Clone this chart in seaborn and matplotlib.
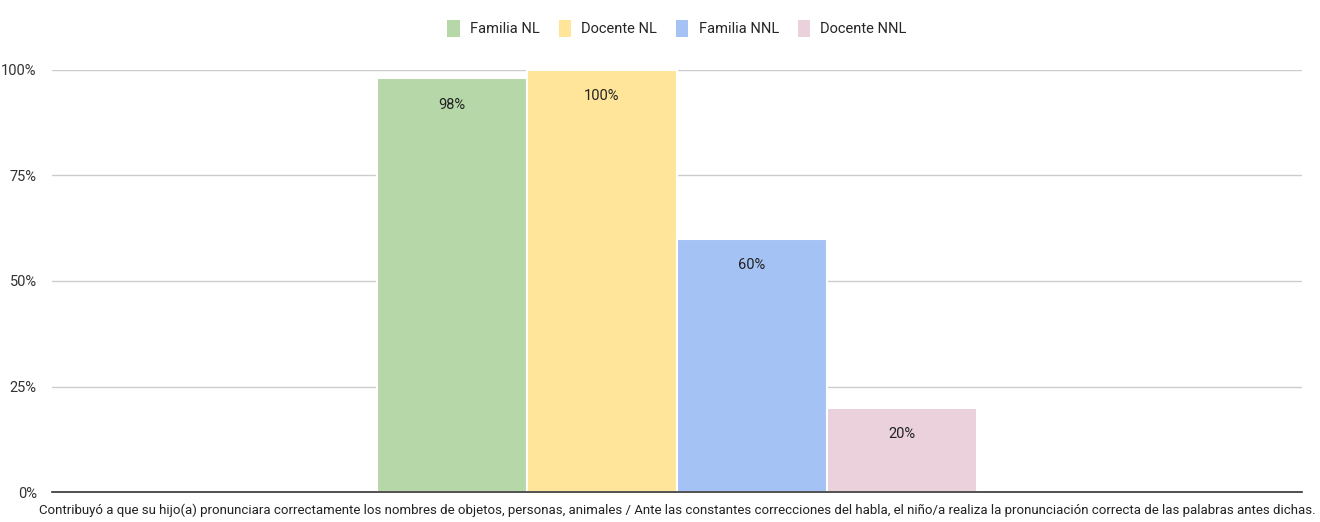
import matplotlib
matplotlib.use("Agg")
import matplotlib.pyplot as plt
import seaborn as sns
import pandas as pd
from matplotlib import font_manager
from matplotlib.patches import Patch

question = ["Contribuyó a que su hijo(a) pronunciara correctamente los nombres de objetos, personas, animales / Ante las constantes correcciones del habla, el niño/a realiza la pronunciación correcta de las palabras antes dichas."]
series = ["Familia NL", "Docente NL", "Familia NNL", "Docente NNL"]
values = [98, 100, 60, 20]
colors = ["#b6d7a8", "#ffe599", "#a4c2f4", "#ead1dc"]
yticks = [0, 25, 50, 75, 100]
ytick_labels = ["0%", "25%", "50%", "75%", "100%"]

sns.set_theme(style="white")
names = {f.name for f in font_manager.fontManager.ttflist}
fam = [f for f in ["Liberation Sans Narrow", "Roboto", "DejaVu Sans"] if f in names]
plt.rcParams["font.family"] = fam

df = pd.DataFrame({"q": question * len(series), "serie": series, "valor": values})

fig = plt.figure(figsize=(13.2, 5.22), dpi=100)
ax = fig.add_axes([52/1320, 1-492/522, 1250/1320, 422/522])
sns.barplot(data=df, x="q", y="valor", hue="serie", hue_order=series,
            palette=colors, width=0.48, saturation=1, edgecolor="white",
            linewidth=1.5, ax=ax, legend=False)
ax.set_xlim(-0.5, 0.5)
ax.set_ylim(0, 100)
ax.set_yticks(yticks)
ax.set_yticklabels(ytick_labels, fontsize=10.5, color="#333333")
ax.tick_params(axis="y", length=0, pad=11)
ax.tick_params(axis="x", length=0, pad=8, labelsize=9.5, labelcolor="#222222")
ax.yaxis.grid(True, color="#cccccc", linewidth=1)
ax.set_axisbelow(True)
for s in ["top", "right", "left"]:
    ax.spines[s].set_visible(False)
ax.spines["bottom"].set_color("#333333")
ax.spines["bottom"].set_linewidth(1.2)
ax.set_xlabel("")
ax.set_ylabel("")
for c in ax.containers:
    ax.bar_label(c, fmt="%.0f%%", padding=-24, fontsize=10.5, color="#222222")
handles = [Patch(facecolor=col, edgecolor="none", label=s) for s, col in zip(series, colors)]
ax.legend(handles=handles, loc="lower center", bbox_to_anchor=(0.5, 1.065), ncol=4,
          frameon=False, fontsize=10.5, handlelength=0.85, handleheight=1.4,
          columnspacing=1.3, handletextpad=0.7, borderaxespad=0)
fig.savefig("out.png", dpi=100)
